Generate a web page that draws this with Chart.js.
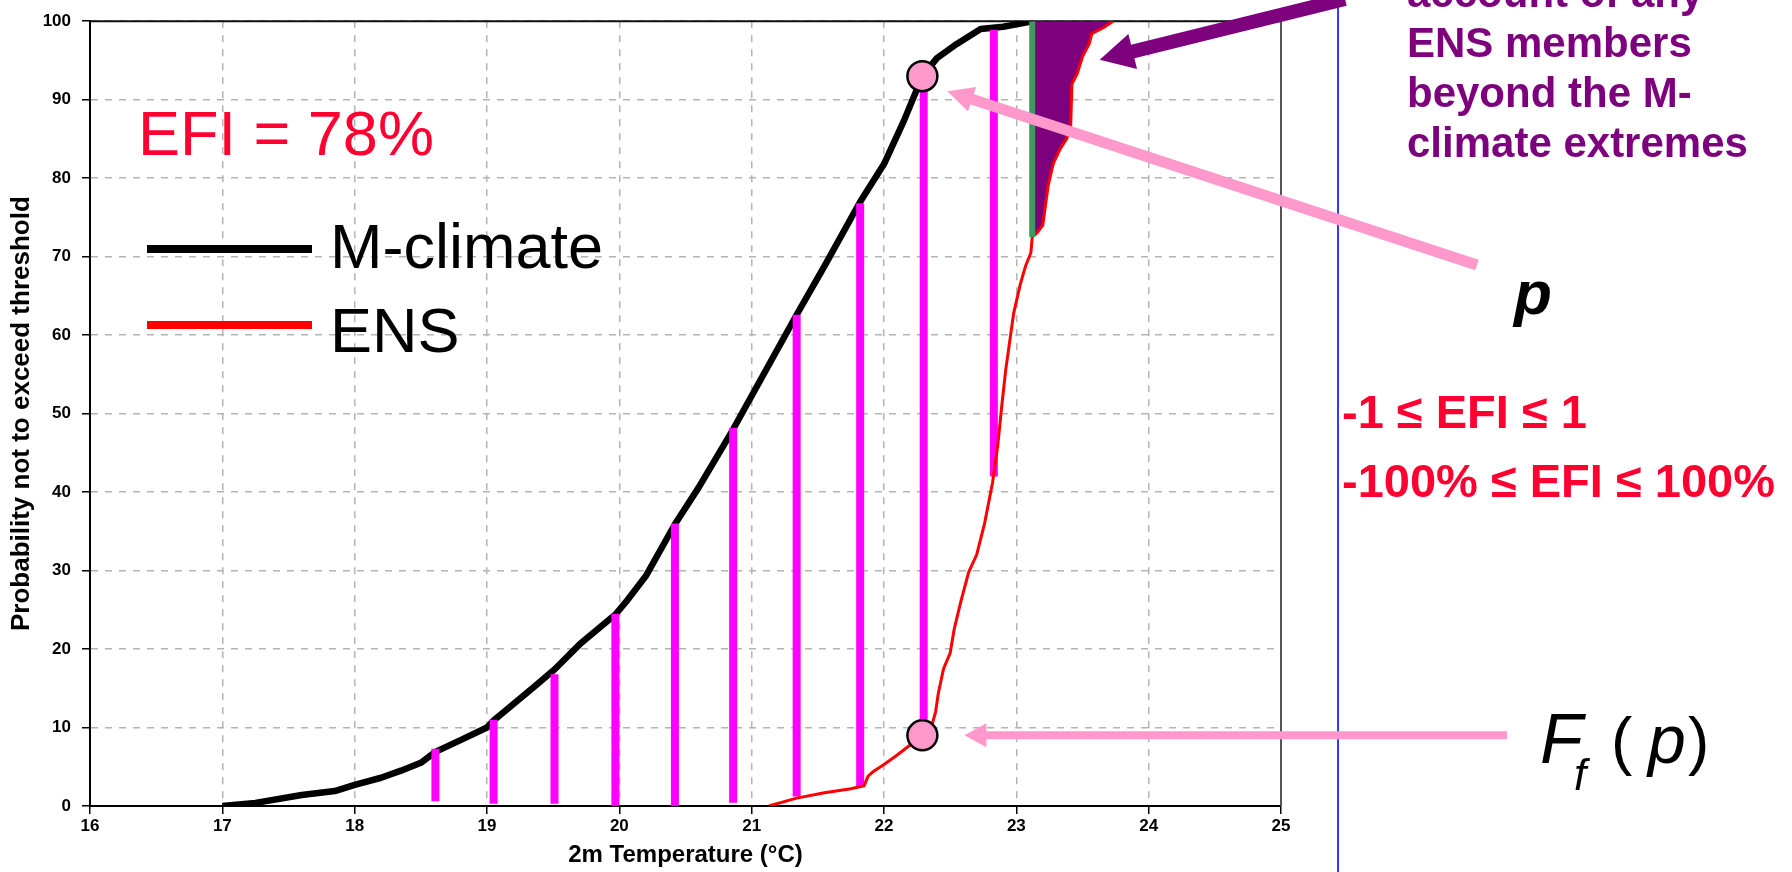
<!DOCTYPE html>
<html>
<head>
<meta charset="utf-8">
<title>EFI - M-climate vs ENS</title>
<script src="https://cdn.jsdelivr.net/npm/chart.js@4.4.1/dist/chart.umd.min.js"></script>
<style>
  html, body { margin: 0; padding: 0; background: #fff; }
  #wrap { position: relative; width: 1792px; height: 872px; }
</style>
</head>
<body>
<div id="wrap"><canvas id="efiChart"></canvas></div>
<script>
// M-climate cumulative distribution: 2m temperature (°C) vs probability (%)
const climX = [17.0, 17.25, 17.6, 17.85, 18.0, 18.2, 18.35, 18.5, 18.61, 18.8, 19.0, 19.05, 19.2, 19.35,
  19.51, 19.7, 19.97, 20.05, 20.2, 20.42, 20.6, 20.86, 21.1, 21.34, 21.55, 21.82, 22.0, 22.15, 22.29,
  22.4, 22.55, 22.73, 22.9, 23.0, 23.12];
const climY = [0, 0.4, 1.4, 1.9, 2.7, 3.6, 4.5, 5.5, 6.9, 8.4, 10.0, 10.9, 13.0, 15.1,
  17.4, 20.6, 24.4, 26.0, 29.3, 35.9, 40.6, 48.0, 55.3, 62.6, 68.8, 77.0, 81.8, 87.3, 93.0,
  95.3, 97.1, 99.0, 99.3, 99.6, 100];

// ENS cumulative distribution
const ensX = [21.13, 21.34, 21.55, 21.75, 21.85, 21.88, 21.92, 22.0, 22.1, 22.2, 22.29, 22.36, 22.39,
  22.41, 22.45, 22.5, 22.53, 22.58, 22.64, 22.7, 22.76, 22.82, 22.86, 22.89, 22.92, 22.98, 23.03,
  23.07, 23.11, 23.12, 23.16, 23.2, 23.22, 23.24, 23.28, 23.33, 23.38, 23.41, 23.42, 23.46, 23.5,
  23.55, 23.57, 23.66, 23.73];
const ensY = [0, 1.0, 1.7, 2.2, 2.6, 3.8, 4.4, 5.3, 6.5, 7.8, 9.0, 10.2, 12.0,
  14.3, 17.5, 19.5, 22.5, 26.0, 29.8, 32.0, 36.0, 41.2, 46.0, 51.0, 55.6, 62.8, 66.5,
  68.8, 70.5, 72.5, 73.1, 74.0, 76.5, 79.0, 81.9, 83.7, 85.0, 86.2, 92.0, 93.3, 95.5,
  97.1, 98.4, 99.2, 100];

// vertical gaps between the two curves at selected M-climate quantiles
const gapX = [18.61, 19.05, 19.51, 19.97, 20.42, 20.86, 21.34, 21.82, 22.30, 22.83];
const gapLow = [0.6, 0.3, 0.3, -0.3, -0.3, 0.4, 1.2, 2.4, 11.0, 42.0];
const gapHigh = [7.3, 11.0, 16.8, 24.5, 36.0, 48.2, 62.6, 76.8, 91.3, 98.9];

// the marked point p: M-climate value and F_f(p) on the ENS curve
const pX = 22.29;
const pClim = 93.0;
const pEns = 9.0;

// axes
const xMin = 16, xMax = 25, xStep = 1;
const yMin = 0, yMax = 100, yStep = 10;

const SANS = '"Liberation Sans", Arial, Helvetica, sans-serif';
const PINK = '#ff99cc';
const PURPLE = '#7d007d';
const RED_TXT = '#ff0030';

const toPts = (xs, ys) => xs.map((v, i) => ({ x: v, y: ys[i] }));
const climPts = toPts(climX, climY);
const ensPts = toPts(ensX, ensY);

// ENS members beyond the M-climate maximum
const climMaxX = climX[climX.length - 1];
const ensTail = ensPts.filter(p => p.x >= climMaxX);
const tailArea = [{ x: climMaxX, y: ensTail[0].y }, ...ensTail, { x: climMaxX, y: yMax }];
const climEdge = [{ x: climMaxX, y: ensTail[0].y }, { x: climMaxX, y: yMax }];

const gapPts = [];
gapX.forEach((gx, i) => {
  gapPts.push({ x: gx, y: gapLow[i] }, { x: gx, y: gapHigh[i] }, { x: gx, y: null });
});

function arrow(ctx, x0, y0, x1, y1, width, headLen, headHalf, color) {
  const ang = Math.atan2(y1 - y0, x1 - x0);
  const c = Math.cos(ang), s = Math.sin(ang);
  const bx = x1 - headLen * c, by = y1 - headLen * s;
  ctx.strokeStyle = color;
  ctx.fillStyle = color;
  ctx.lineWidth = width;
  ctx.lineCap = 'butt';
  ctx.beginPath();
  ctx.moveTo(x0, y0);
  ctx.lineTo(bx + 2 * c, by + 2 * s);
  ctx.stroke();
  ctx.beginPath();
  ctx.moveTo(x1, y1);
  ctx.lineTo(bx - s * headHalf, by + c * headHalf);
  ctx.lineTo(bx + s * headHalf, by - c * headHalf);
  ctx.closePath();
  ctx.fill();
}

const frame = {
  id: 'frame',
  beforeDatasetsDraw(chart) {
    const { ctx, chartArea: a } = chart;
    ctx.save();
    ctx.lineWidth = 2;
    ctx.strokeStyle = '#111';
    ctx.beginPath();
    ctx.moveTo(a.left, a.top);
    ctx.lineTo(a.right, a.top);
    ctx.stroke();
    ctx.strokeStyle = '#555';
    ctx.beginPath();
    ctx.moveTo(a.right, a.top);
    ctx.lineTo(a.right, a.bottom);
    ctx.stroke();
    ctx.restore();
  }
};

const notes = {
  id: 'notes',
  afterDatasetsDraw(chart) {
    const { ctx, scales: { x, y } } = chart;
    ctx.save();

    // separator line on the right
    ctx.strokeStyle = '#2f3cff';
    ctx.lineWidth = 2;
    ctx.beginPath();
    ctx.moveTo(1338, 0);
    ctx.lineTo(1338, 872);
    ctx.stroke();

    // EFI value
    ctx.fillStyle = RED_TXT;
    ctx.textBaseline = 'alphabetic';
    ctx.textAlign = 'left';
    ctx.font = '63px ' + SANS;
    ctx.fillText('EFI = 78%', 138, 155);

    // legend
    ctx.lineCap = 'butt';
    ctx.lineWidth = 8;
    ctx.strokeStyle = '#000';
    ctx.beginPath(); ctx.moveTo(147, 249); ctx.lineTo(312, 249); ctx.stroke();
    ctx.strokeStyle = '#ff0000';
    ctx.beginPath(); ctx.moveTo(147, 325); ctx.lineTo(312, 325); ctx.stroke();
    ctx.fillStyle = '#000';
    ctx.font = '63px ' + SANS;
    ctx.fillText('M-climate', 330, 268);
    ctx.fillText('ENS', 330, 352);

    // arrows
    const px = x.getPixelForValue(pX);
    arrow(ctx, 1345, -1, x.getPixelForValue(23.63), y.getPixelForValue(95.1), 14, 34, 18, PURPLE);
    arrow(ctx, 1477, 265, px + 25, y.getPixelForValue(pClim) + 15, 11, 26, 13, PINK);
    arrow(ctx, 1507, y.getPixelForValue(pEns), px + 42, y.getPixelForValue(pEns), 8, 22, 12, PINK);

    // purple note
    ctx.fillStyle = PURPLE;
    ctx.font = 'bold 42px ' + SANS;
    ['account of any', 'ENS members', 'beyond the M-', 'climate extremes']
      .forEach((t, i) => ctx.fillText(t, 1407, 7 + 50 * i));

    // p label
    ctx.fillStyle = '#000';
    ctx.font = 'italic bold 62px ' + SANS;
    ctx.fillText('p', 1514, 314);

    // EFI range
    ctx.fillStyle = RED_TXT;
    ctx.font = 'bold 47px ' + SANS;
    ctx.fillText('-1 \u2264 EFI \u2264 1', 1342, 428);
    ctx.fillText('-100% \u2264 EFI \u2264 100%', 1342, 497);

    // F_f(p)
    ctx.fillStyle = '#000';
    ctx.font = 'italic 70px ' + SANS;
    ctx.fillText('F', 1540, 763);
    ctx.font = 'italic 44px ' + SANS;
    ctx.fillText('f', 1574, 790);
    ctx.font = '64px ' + SANS;
    ctx.fillText('(', 1611, 763);
    ctx.font = 'italic 68px ' + SANS;
    ctx.fillText('p', 1648, 763);
    ctx.font = '64px ' + SANS;
    ctx.fillText(')', 1688, 763);

    ctx.restore();
  }
};

new Chart(document.getElementById('efiChart'), {
  type: 'line',
  data: {
    datasets: [
      {
        label: 'p',
        data: [{ x: pX, y: pClim }, { x: pX, y: pEns }],
        showLine: false,
        pointRadius: 15,
        pointBackgroundColor: PINK,
        pointBorderColor: '#000',
        pointBorderWidth: 2.5,
        order: 0,
      },
      {
        label: 'M-climate maximum',
        data: climEdge,
        borderColor: '#3a9a62',
        borderWidth: 6,
        pointRadius: 0,
        order: 1,
      },
      {
        label: 'ENS',
        data: ensPts,
        borderColor: '#ff0000',
        borderWidth: 3,
        pointRadius: 0,
        order: 2,
      },
      {
        label: 'quantile gaps',
        data: gapPts,
        borderColor: '#ff00ff',
        borderWidth: 8,
        borderCapStyle: 'butt',
        pointRadius: 0,
        spanGaps: false,
        order: 3,
      },
      {
        label: 'M-climate',
        data: climPts,
        borderColor: '#000',
        borderWidth: 6.5,
        borderJoinStyle: 'round',
        pointRadius: 0,
        order: 4,
      },
      {
        label: 'beyond M-climate',
        data: tailArea,
        borderWidth: 0,
        backgroundColor: PURPLE,
        fill: 'shape',
        pointRadius: 0,
        order: 5,
      },
    ],
  },
  options: {
    responsive: true,
    maintainAspectRatio: false,
    animation: false,
    devicePixelRatio: 1,
    layout: { padding: { top: 14, right: 511, left: 0, bottom: 0 } },
    elements: { line: { tension: 0 } },
    plugins: {
      legend: { display: false },
      tooltip: { enabled: false },
    },
    scales: {
      x: {
        type: 'linear',
        min: xMin,
        max: xMax,
        afterFit: (s) => { s.height = 66; },
        ticks: {
          stepSize: xStep,
          color: '#000',
          padding: 2,
          maxRotation: 0,
          font: { family: SANS, size: 17, weight: 'bold' },
        },
        grid: { color: '#b4b4b4', lineWidth: 1.5, tickColor: '#000', tickLength: 8, tickWidth: 1.5 },
        border: { display: true, color: '#000', width: 2, dash: [7, 7] },
        title: {
          display: true,
          text: '2m Temperature (\u00B0C)',
          color: '#000',
          font: { family: SANS, size: 24, weight: 'bold' },
          padding: { top: 0, bottom: 2 },
        },
      },
      y: {
        type: 'linear',
        min: yMin,
        max: yMax,
        afterFit: (s) => { s.width = 90; },
        ticks: {
          stepSize: yStep,
          color: '#000',
          padding: 11,
          font: { family: SANS, size: 17, weight: 'bold' },
        },
        grid: { color: '#b4b4b4', lineWidth: 1.5, tickColor: '#000', tickLength: 8, tickWidth: 1.5 },
        border: { display: true, color: '#000', width: 2, dash: [7, 7] },
        title: {
          display: true,
          text: 'Probability not to exceed threshold',
          color: '#000',
          font: { family: SANS, size: 26, weight: 'bold' },
          padding: { top: 6, bottom: 0 },
        },
      },
    },
  },
  plugins: [frame, notes],
});
</script>
</body>
</html>
